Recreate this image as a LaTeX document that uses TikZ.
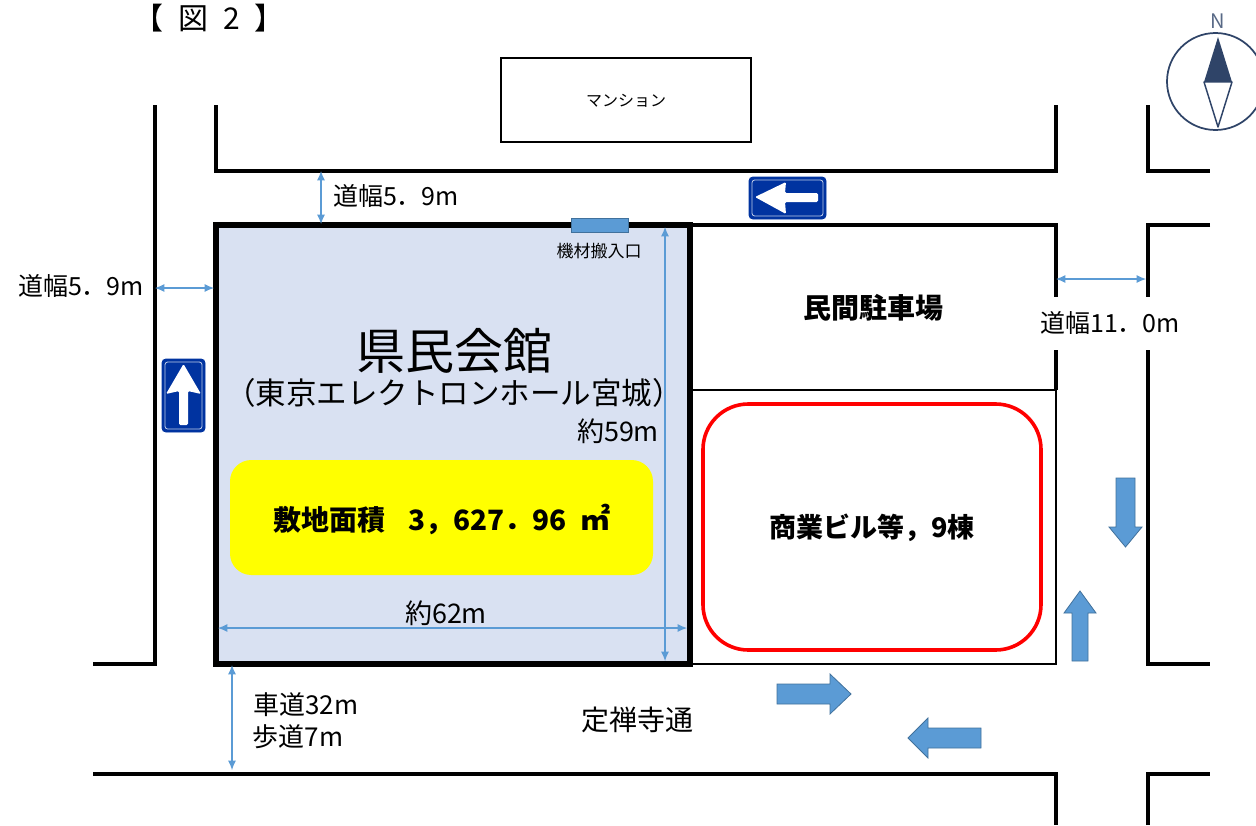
\documentclass[tikz,border=0pt]{standalone}
\usepackage{fontspec}
\setmainfont{Noto Sans CJK JP}
\usetikzlibrary{arrows.meta}
\newcommand{\pxfont}[1]{\fontsize{\dimexpr#1pt*3/4\relax}{\dimexpr#1pt\relax}\selectfont}
\definecolor{dimblue}{HTML}{5B9BD5}
\definecolor{edgeblue}{HTML}{41719C}
\definecolor{sitefill}{HTML}{D9E1F2}
\definecolor{signblue}{HTML}{0033A0}
\definecolor{compass}{HTML}{2F4468}
\definecolor{areayellow}{HTML}{FFFF00}
\definecolor{lotred}{HTML}{FF0000}
\tikzset{
  wall/.style={line width=2.7pt,black,line join=miter},
  thinwall/.style={line width=1.4pt,black},
  dimline/.style={line width=0.8pt,dimblue,{Latex[length=7pt,width=6pt]}-{Latex[length=7pt,width=6pt]}},
  block/.style={fill=dimblue,draw=edgeblue,line width=0.6pt},
  signbox/.style={fill=signblue,draw=signblue,line width=0.7pt,rounded corners=3pt},
  signin/.style={draw=white!75!signblue,line width=0.6pt,rounded corners=2pt},
  lbl/.style={inner sep=0pt,text=black,anchor=center},
}
\begin{document}
\begin{tikzpicture}[x=0.75pt,y=-0.75pt]
\useasboundingbox (0,0) rectangle (1256,825);
\clip (0,0) rectangle (1256,825);
% site
\draw[fill=sitefill,draw=black,line width=3.9pt] (216,225) rectangle (690,664);
% thin lots
\draw[thinwall] (690,390) -- (1056,390);
\draw[thinwall] (690,664) -- (1056,664) -- (1056,390);
% walls
\draw[wall] (155,105) -- (155,664) -- (93,664);
\draw[wall] (216,105) -- (216,171) -- (1056,171) -- (1056,105);
\draw[wall] (1148,105) -- (1148,171) -- (1210,171);
\draw[wall] (692,225) -- (1056,225) -- (1056,390);
\draw[wall] (1210,225) -- (1148,225) -- (1148,664) -- (1210,664);
\draw[wall] (93,774) -- (1056,774) -- (1056,825);
\draw[wall] (1148,825) -- (1148,774) -- (1210,774);
% mansion
\draw[black,line width=1.6pt] (501,58) rectangle (751,142);
\node[lbl] (mansiontext) at (626,101) {\pxfont{16}マンション};
% yellow, red
\draw[fill=areayellow,draw=none,rounded corners=16pt] (230,460) rectangle (653,575);
\draw[draw=lotred,line width=2.7pt,rounded corners=34pt] (703,404) rectangle (1041,650);
% entrance
\draw[block] (571,218) rectangle (628,232);
% dimension arrows
\coordinate (a1) at (321,171); \coordinate (a2) at (321,224);
\coordinate (b1) at (155,288); \coordinate (b2) at (214,288);
\coordinate (c1) at (1056,279); \coordinate (c2) at (1146,279);
\coordinate (d1) at (665,227); \coordinate (d2) at (665,661);
\coordinate (e1) at (218,628); \coordinate (e2) at (687,628);
\coordinate (f1) at (232,665); \coordinate (f2) at (232,770);
\foreach \p/\q in {a1/a2,b1/b2,c1/c2,d1/d2,e1/e2,f1/f2} \draw[dimline] (\p) -- (\q);
% block arrows
\draw[block] (1116,478) -- (1135,478) -- (1135,527) -- (1142,527) -- (1125.5,547) -- (1109,527) -- (1116,527) -- cycle;
\draw[block] (1072,661) -- (1088,661) -- (1088,613) -- (1096,613) -- (1080,591) -- (1064,613) -- (1072,613) -- cycle;
\draw[block] (777,684) -- (830,684) -- (830,674) -- (851,694) -- (830,714) -- (830,704) -- (777,704) -- cycle;
\draw[block] (981,728) -- (928,728) -- (928,718) -- (908,738) -- (928,758) -- (928,748) -- (981,748) -- cycle;
% one-way signs
\draw[signbox] (749,177) rectangle (826,219);
\draw[signin] (752,180) rectangle (823,216);
\fill[white,rounded corners=1pt] (755,197) -- (786,182) -- (785,193) -- (818,193) -- (818,202) -- (785,202) -- (786,214) -- cycle;
\draw[signbox] (162,359) rectangle (205,432);
\draw[signin] (165,362) rectangle (202,429);
\fill[white,rounded corners=1pt] (183.5,364) -- (201,394) -- (188,391) -- (188,425) -- (179,425) -- (179,391) -- (166,394) -- cycle;
% compass
\draw[compass,line width=1.3pt] (1215.5,81.5) circle[radius=48.5];
\fill[compass] (1218,37) -- (1232,82) -- (1204,82) -- cycle;
\draw[compass,line width=1.1pt,fill=white,line join=round] (1204,82) -- (1232,82) -- (1218,127) -- cycle;
\node[lbl,text=compass!80!white] (north) at (1218,21) {\pxfont{20}N};
% labels
\node[lbl] (title) at (209,18) {\pxfont{30}【\hspace{0.5em}図\hspace{0.5em}2\hspace{0.5em}】};
\node[lbl] (w1) at (396,196) {\pxfont{25}道幅5．9m};
\node[lbl] (w2) at (81,286) {\pxfont{25}道幅5．9m};
\node[lbl,fill=white,minimum width=160*0.75pt,minimum height=53*0.75pt] (w3) at (1110,323) {\pxfont{25}道幅11．0m};
\node[lbl] (entry) at (599,251) {\pxfont{17}機材搬入口};
\node[lbl] (kaikan) at (454,351) {\pxfont{49}県民会館};
\node[lbl] (kaikansub) at (454,393) {\pxfont{30.5}（東京エレクトロンホール宮城）};
\node[lbl] (len59) at (618,431) {\pxfont{27}約59m};
\node[lbl] (len62) at (446,613) {\pxfont{27}約62m};
\node[lbl,font=\bfseries] (area) at (442,519) {\pxfont{28}敷地面積\hspace{0.8em}3，627．96\hspace{0.5em}{\pxfont{30}㎡}};
\node[lbl,font=\bfseries] (parking) at (873,308) {\pxfont{28}民間駐車場};
\node[lbl,font=\bfseries] (shogyo) at (872,528) {\pxfont{27}商業ビル等，9棟};
\node[lbl] (road1) at (306,705) {\pxfont{26}車道32m};
\node[lbl] (road2) at (298,737) {\pxfont{26}歩道7m};
\node[lbl] (dori) at (637,720) {\pxfont{28}定禅寺通};
\end{tikzpicture}
\end{document}
